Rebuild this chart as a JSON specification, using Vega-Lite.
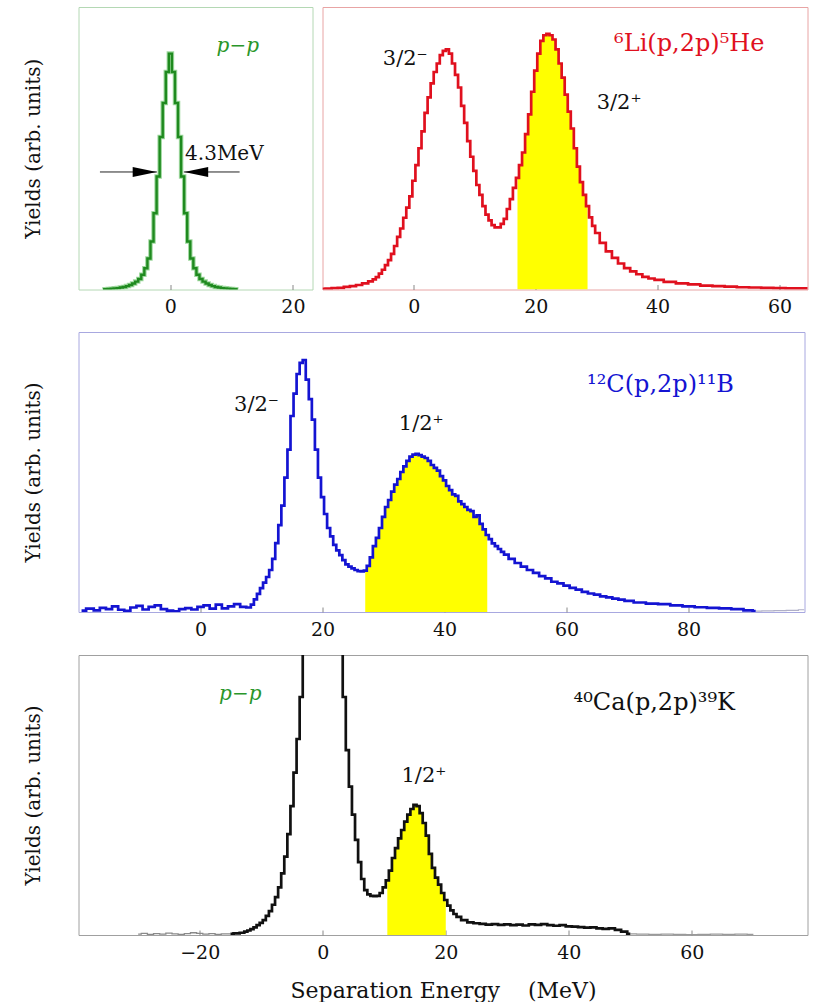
{
"$schema": "https://vega.github.io/schema/vega-lite/v6.json",
"background": "white",
"padding": {"left": 22.5, "top": 6, "right": 0, "bottom": 0},
"spacing": 14,
"config": {
  "font": "DejaVu Serif",
  "axis": {"grid": false, "domain": false, "labelFont": "DejaVu Serif", "labelFontSize": 19, "labelColor": "#111", "tickColor": "#888", "tickSize": -5, "labelPadding": 13, "labelOverlap": false, "titleFont": "DejaVu Serif", "titleFontWeight": "normal", "titleFontSize": 20, "titleColor": "#111"},
  "axisY": {"ticks": false, "labels": false, "domain": false, "titlePadding": 35}
},
"vconcat": [
 {"hconcat": [
  {
   "width": 234, "height": 282.5,
   "view": {"stroke": "#b4d8b4"},
   "data": {"values": [{"e":-11,"y":0},{"e":-10.5,"y":0.1},{"e":-10,"y":0.2},{"e":-9.5,"y":0.3},{"e":-9,"y":0.4},{"e":-8.5,"y":0.5},{"e":-8,"y":0.7},{"e":-7.5,"y":0.9},{"e":-7,"y":1.2},{"e":-6.5,"y":1.6},{"e":-6,"y":2.1},{"e":-5.5,"y":2.8},{"e":-5,"y":3.7},{"e":-4.5,"y":5.2},{"e":-4,"y":7.5},{"e":-3.5,"y":11},{"e":-3,"y":17},{"e":-2.5,"y":27},{"e":-2,"y":40},{"e":-1.5,"y":54},{"e":-1,"y":66},{"e":-0.5,"y":77},{"e":0,"y":83.5},{"e":0.5,"y":77},{"e":1,"y":66},{"e":1.5,"y":54},{"e":2,"y":40},{"e":2.5,"y":27},{"e":3,"y":17},{"e":3.5,"y":11},{"e":4,"y":7.5},{"e":4.5,"y":5.2},{"e":5,"y":3.7},{"e":5.5,"y":2.8},{"e":6,"y":2.1},{"e":6.5,"y":1.6},{"e":7,"y":1.2},{"e":7.5,"y":0.9},{"e":8,"y":0.7},{"e":8.5,"y":0.5},{"e":9,"y":0.4},{"e":9.5,"y":0.3},{"e":10,"y":0.2},{"e":10.5,"y":0.1},{"e":11,"y":0}]},
   "encoding": {
     "x": {"field": "e", "type": "quantitative", "scale": {"domain": [-15, 23.2], "nice": false, "zero": false}, "axis": {"values": [0, 20], "title": null}},
     "y": {"field": "y", "type": "quantitative", "scale": {"domain": [0, 100], "nice": false}, "axis": {"title": "Yields (arb. units)"}}
   },
   "layer": [
    {"mark": {"type": "line", "interpolate": "step", "color": "#9fd89f", "strokeWidth": 4.5, "clip": true}},
    {"mark": {"type": "line", "interpolate": "step", "color": "#1f8a1f", "strokeWidth": 2.4, "clip": true}},
    {"data": {"values": [{"e": -11.5, "e2": -2.2, "y": 41.6}, {"e": 2.2, "e2": 11.3, "y": 41.6}]},
     "mark": {"type": "rule", "color": "#222", "strokeWidth": 1},
     "encoding": {"x2": {"field": "e2"}}},
    {"data": {"values": [{"e": -4.19, "y": 41.6}]},
     "mark": {"type": "point", "shape": "M-1,-0.42L1,0L-1,0.42Z", "filled": true, "size": 576, "color": "#000", "opacity": 1}},
    {"data": {"values": [{"e": 4.21, "y": 41.6}]},
     "mark": {"type": "point", "shape": "M1,-0.42L-1,0L1,0.42Z", "filled": true, "size": 576, "color": "#000", "opacity": 1}},
    {"data": {"values": [{"e": 2.4, "y": 48, "t": "4.3MeV"}]},
     "mark": {"type": "text", "align": "left", "baseline": "middle", "font": "DejaVu Serif", "fontSize": 20, "color": "#111"},
     "encoding": {"text": {"field": "t"}}},
    {"data": {"values": [{"e": 11.0, "y": 86.2, "t": "p−p"}]},
     "mark": {"type": "text", "align": "center", "baseline": "middle", "font": "DejaVu Serif", "fontStyle": "italic", "fontSize": 20, "color": "#2a962a"},
     "encoding": {"text": {"field": "t"}}}
   ]
  },
  {
   "width": 485, "height": 282.5,
   "view": {"stroke": "#e8a4a4"},
   "data": {"values": [{"e":-15,"y":0.2},{"e":-14,"y":0.3},{"e":-13,"y":0.5},{"e":-12,"y":0.6},{"e":-11,"y":0.9},{"e":-10,"y":1.2},{"e":-9,"y":1.6},{"e":-8,"y":2.2},{"e":-7,"y":2.9},{"e":-6.5,"y":3.6},{"e":-6,"y":4.4},{"e":-5.5,"y":5.6},{"e":-5,"y":7},{"e":-4.5,"y":8.6},{"e":-4,"y":10.4},{"e":-3.5,"y":12.6},{"e":-3,"y":15.4},{"e":-2.5,"y":18.6},{"e":-2,"y":21.6},{"e":-1.5,"y":25.4},{"e":-1,"y":29},{"e":-0.5,"y":33},{"e":0,"y":38.5},{"e":0.5,"y":44},{"e":1,"y":50},{"e":1.5,"y":56},{"e":2,"y":62.5},{"e":2.5,"y":68},{"e":3,"y":73},{"e":3.5,"y":77},{"e":4,"y":80},{"e":4.5,"y":83},{"e":5,"y":84.5},{"e":5.5,"y":85},{"e":6,"y":83.5},{"e":6.5,"y":80},{"e":7,"y":76},{"e":7.5,"y":71.5},{"e":8,"y":65},{"e":8.5,"y":59},{"e":9,"y":52.5},{"e":9.5,"y":47},{"e":10,"y":42},{"e":10.5,"y":37},{"e":11,"y":33.5},{"e":11.5,"y":29.5},{"e":12,"y":26.5},{"e":12.5,"y":24.5},{"e":13,"y":22.8},{"e":13.5,"y":22},{"e":14,"y":22},{"e":14.5,"y":23.2},{"e":15,"y":25},{"e":15.5,"y":28.5},{"e":16,"y":32},{"e":16.5,"y":36},{"e":17,"y":39.5},{"e":17.5,"y":44},{"e":18,"y":48.5},{"e":18.5,"y":55},{"e":19,"y":62},{"e":19.5,"y":70},{"e":20,"y":77.5},{"e":20.5,"y":83.5},{"e":21,"y":88},{"e":21.5,"y":90},{"e":22,"y":90.5},{"e":22.5,"y":90},{"e":23,"y":88.5},{"e":23.5,"y":85},{"e":24,"y":80},{"e":24.5,"y":75},{"e":25,"y":69},{"e":25.5,"y":63},{"e":26,"y":57},{"e":26.5,"y":50},{"e":27,"y":43.5},{"e":27.5,"y":38},{"e":28,"y":33.5},{"e":28.5,"y":29.5},{"e":29,"y":25.5},{"e":29.5,"y":22.5},{"e":30,"y":20},{"e":31,"y":16.5},{"e":32,"y":13.5},{"e":33,"y":11.2},{"e":34,"y":9.2},{"e":35,"y":7.6},{"e":36,"y":6.4},{"e":37,"y":5.4},{"e":38,"y":4.5},{"e":39,"y":3.9},{"e":40,"y":3.4},{"e":42,"y":2.7},{"e":44,"y":2.2},{"e":46,"y":1.8},{"e":48,"y":1.4},{"e":50,"y":1.2},{"e":52,"y":1.0},{"e":54,"y":0.8},{"e":56,"y":0.7},{"e":58,"y":0.6},{"e":60,"y":0.5},{"e":62,"y":0.4},{"e":64,"y":0.4},{"e":65,"y":0.4}]},
   "encoding": {
     "x": {"field": "e", "type": "quantitative", "scale": {"domain": [-15, 64.6], "nice": false, "zero": false}, "axis": {"values": [0, 20, 40, 60], "title": null}},
     "y": {"field": "y", "type": "quantitative", "scale": {"domain": [0, 100], "nice": false}, "axis": null}
   },
   "layer": [
    {"transform": [{"filter": "datum.e >= 17 && datum.e <= 28.5"}],
     "mark": {"type": "area", "interpolate": "step", "color": "#ffff00", "opacity": 1, "clip": true}},
    {"mark": {"type": "line", "interpolate": "step", "color": "#e0101e", "strokeWidth": 2.7, "clip": true}},
    {"data": {"values": [{"e": -5.1, "y": 81.6, "t": "3/2⁻"}, {"e": 30, "y": 66, "t": "3/2⁺"}]},
     "mark": {"type": "text", "align": "left", "baseline": "middle", "font": "DejaVu Serif", "fontSize": 21, "color": "#111"},
     "encoding": {"text": {"field": "t"}}},
    {"data": {"values": [{"e": 45.2, "y": 86.9, "t": "⁶Li(p,2p)⁵He"}]},
     "mark": {"type": "text", "align": "center", "baseline": "middle", "font": "DejaVu Serif", "fontSize": 24, "color": "#e0101e"},
     "encoding": {"text": {"field": "t"}}}
   ]
  }
 ], "spacing": 10, "bounds": "flush"},
 {
  "width": 726, "height": 280,
  "view": {"stroke": "#a8a8e0"},
  "data": {"values": [{"e":-19.5,"y":0.5},{"e":-18,"y":1.2},{"e":-17,"y":0.6},{"e":-16,"y":1.5},{"e":-15,"y":1.0},{"e":-14,"y":2.0},{"e":-13,"y":0.8},{"e":-12,"y":0.4},{"e":-11,"y":1.6},{"e":-10,"y":2.2},{"e":-9,"y":0.9},{"e":-8,"y":1.8},{"e":-7,"y":2.4},{"e":-6,"y":1.0},{"e":-5,"y":0.5},{"e":-4,"y":0.2},{"e":-3,"y":1.0},{"e":-2,"y":1.4},{"e":-1,"y":0.9},{"e":0,"y":1.8},{"e":1,"y":2.4},{"e":2,"y":1.2},{"e":3,"y":2.6},{"e":4,"y":1.3},{"e":5,"y":2.0},{"e":6,"y":2.8},{"e":7,"y":1.8},{"e":8,"y":1.6},{"e":8.5,"y":2.6},{"e":9,"y":4.5},{"e":9.5,"y":6.5},{"e":10,"y":8.5},{"e":10.5,"y":10.5},{"e":11,"y":12.5},{"e":11.5,"y":15},{"e":12,"y":19},{"e":12.5,"y":24.6},{"e":13,"y":31},{"e":13.5,"y":38},{"e":14,"y":48},{"e":14.5,"y":58},{"e":15,"y":70},{"e":15.5,"y":78},{"e":16,"y":85},{"e":16.5,"y":89},{"e":17,"y":90},{"e":17.5,"y":83},{"e":18,"y":76},{"e":18.5,"y":68.7},{"e":19,"y":58},{"e":19.5,"y":48},{"e":20,"y":41},{"e":20.5,"y":35},{"e":21,"y":30},{"e":21.5,"y":27},{"e":22,"y":24},{"e":22.5,"y":22},{"e":23,"y":20.3},{"e":23.5,"y":18.5},{"e":24,"y":17},{"e":24.5,"y":16.2},{"e":25,"y":15.6},{"e":25.5,"y":15},{"e":26,"y":14.6},{"e":26.5,"y":14.5},{"e":27,"y":14.8},{"e":27.5,"y":16.5},{"e":28,"y":19.5},{"e":28.5,"y":23.5},{"e":29,"y":26.5},{"e":29.5,"y":30},{"e":30,"y":34},{"e":30.5,"y":37.5},{"e":31,"y":40},{"e":31.5,"y":43},{"e":32,"y":45.5},{"e":32.5,"y":47.5},{"e":33,"y":50},{"e":33.5,"y":52},{"e":34,"y":54},{"e":34.5,"y":55.5},{"e":35,"y":56.2},{"e":35.5,"y":56.5},{"e":36,"y":56},{"e":36.5,"y":55.5},{"e":37,"y":55},{"e":37.5,"y":54},{"e":38,"y":52.5},{"e":38.5,"y":51.5},{"e":39,"y":50.5},{"e":39.5,"y":48.5},{"e":40,"y":47},{"e":40.5,"y":45},{"e":41,"y":43.5},{"e":41.5,"y":42},{"e":42,"y":41.5},{"e":42.5,"y":39.5},{"e":43,"y":38.5},{"e":43.5,"y":37.5},{"e":44,"y":36.5},{"e":44.5,"y":36},{"e":45,"y":34},{"e":45.5,"y":34.5},{"e":46,"y":31.5},{"e":46.5,"y":29.5},{"e":47,"y":27.5},{"e":47.5,"y":26},{"e":48,"y":24.5},{"e":48.5,"y":23.5},{"e":49,"y":22.5},{"e":49.5,"y":21.5},{"e":50,"y":20.5},{"e":51,"y":19},{"e":52,"y":17.5},{"e":53,"y":16.2},{"e":54,"y":15},{"e":55,"y":14},{"e":56,"y":12.8},{"e":57,"y":12},{"e":58,"y":10.8},{"e":59,"y":10.2},{"e":60,"y":9.4},{"e":61,"y":8.6},{"e":62,"y":8.0},{"e":63,"y":7.2},{"e":64,"y":6.6},{"e":65,"y":6.2},{"e":66,"y":5.6},{"e":67,"y":5.2},{"e":68,"y":4.8},{"e":69,"y":4.4},{"e":70,"y":4.0},{"e":72,"y":3.4},{"e":74,"y":3.0},{"e":76,"y":2.8},{"e":78,"y":2.4},{"e":80,"y":2.0},{"e":82,"y":1.7},{"e":84,"y":1.5},{"e":86,"y":1.3},{"e":88,"y":1.0},{"e":90,"y":0.6},{"e":91,"y":0.3},{"e":93,"y":0.4},{"e":95,"y":0.5},{"e":97,"y":0.6},{"e":99,"y":0.8}]},
  "encoding": {
    "x": {"field": "e", "type": "quantitative", "scale": {"domain": [-20.0, 99], "nice": false, "zero": false}, "axis": {"values": [0, 20, 40, 60, 80], "title": null}},
    "y": {"field": "y", "type": "quantitative", "scale": {"domain": [0, 100], "nice": false}, "axis": {"title": "Yields (arb. units)"}}
  },
  "layer": [
   {"transform": [{"filter": "datum.e >= 27 && datum.e <= 47"}],
    "mark": {"type": "area", "interpolate": "step", "color": "#ffff00", "opacity": 1, "clip": true}},
   {"transform": [{"filter": "datum.e >= 91"}],
    "mark": {"type": "line", "interpolate": "step", "color": "#b0b0c8", "strokeWidth": 1.2, "clip": true}},
   {"transform": [{"filter": "datum.e <= 91"}],
    "mark": {"type": "line", "interpolate": "step", "color": "#1414d2", "strokeWidth": 2.7, "clip": true}},
   {"data": {"values": [{"e": 5.5, "y": 74, "t": "3/2⁻"}, {"e": 32.5, "y": 67.3, "t": "1/2⁺"}]},
    "mark": {"type": "text", "align": "left", "baseline": "middle", "font": "DejaVu Serif", "fontSize": 21, "color": "#111"},
    "encoding": {"text": {"field": "t"}}},
   {"data": {"values": [{"e": 75.4, "y": 81.2, "t": "¹²C(p,2p)¹¹B"}]},
    "mark": {"type": "text", "align": "center", "baseline": "middle", "font": "DejaVu Serif", "fontSize": 24, "color": "#1414d2"},
    "encoding": {"text": {"field": "t"}}}
  ]
 },
 {
  "width": 729, "height": 280,
  "view": {"stroke": "#a0a0a0"},
  "data": {"values": [{"e":-30,"y":0.3},{"e":-29,"y":0.6},{"e":-28,"y":0.2},{"e":-27,"y":0.5},{"e":-26,"y":0.3},{"e":-25,"y":0.7},{"e":-24,"y":0.4},{"e":-23,"y":0.2},{"e":-22,"y":0.5},{"e":-21,"y":0.8},{"e":-20,"y":0.6},{"e":-19,"y":0.3},{"e":-18,"y":0.5},{"e":-17,"y":0.2},{"e":-16,"y":0.4},{"e":-15,"y":0.4},{"e":-14,"y":0.6},{"e":-13,"y":0.8},{"e":-12.5,"y":1.2},{"e":-12,"y":1.6},{"e":-11.5,"y":2.1},{"e":-11,"y":2.7},{"e":-10.5,"y":3.5},{"e":-10,"y":4.3},{"e":-9.5,"y":5.3},{"e":-9,"y":6.8},{"e":-8.5,"y":8.5},{"e":-8,"y":10.8},{"e":-7.5,"y":13.5},{"e":-7,"y":17},{"e":-6.5,"y":22},{"e":-6,"y":28},{"e":-5.5,"y":36},{"e":-5,"y":46},{"e":-4.5,"y":58},{"e":-4,"y":70},{"e":-3.5,"y":85},{"e":-3,"y":103},{"e":-2.5,"y":125},{"e":-2,"y":150},{"e":-1.5,"y":170},{"e":-1,"y":185},{"e":-0.5,"y":195},{"e":0,"y":200},{"e":0.5,"y":198},{"e":1,"y":190},{"e":1.5,"y":178},{"e":2,"y":160},{"e":2.5,"y":135},{"e":3,"y":108},{"e":3.5,"y":85},{"e":4,"y":66},{"e":4.5,"y":53},{"e":5,"y":43},{"e":5.5,"y":34},{"e":6,"y":26},{"e":6.5,"y":20},{"e":7,"y":16},{"e":7.5,"y":14.5},{"e":8,"y":14},{"e":8.5,"y":13.9},{"e":9,"y":14},{"e":9.5,"y":15},{"e":10,"y":17},{"e":10.5,"y":19.5},{"e":11,"y":23},{"e":11.5,"y":27.5},{"e":12,"y":31},{"e":12.5,"y":34.5},{"e":13,"y":37.5},{"e":13.5,"y":40.5},{"e":14,"y":43},{"e":14.5,"y":45},{"e":15,"y":46.5},{"e":15.5,"y":46},{"e":16,"y":43.5},{"e":16.5,"y":40},{"e":17,"y":35.5},{"e":17.5,"y":29},{"e":18,"y":24},{"e":18.5,"y":20.5},{"e":19,"y":18},{"e":19.5,"y":15},{"e":20,"y":12.5},{"e":20.5,"y":10.5},{"e":21,"y":8.8},{"e":21.5,"y":7.5},{"e":22,"y":6.5},{"e":23,"y":5.3},{"e":24,"y":4.5},{"e":25,"y":4.2},{"e":26,"y":4.0},{"e":27,"y":3.7},{"e":28,"y":3.9},{"e":29,"y":3.6},{"e":30,"y":3.8},{"e":31,"y":3.5},{"e":32,"y":3.7},{"e":33,"y":3.4},{"e":34,"y":3.8},{"e":35,"y":3.6},{"e":36,"y":3.9},{"e":37,"y":3.5},{"e":38,"y":3.3},{"e":39,"y":3.5},{"e":40,"y":3.1},{"e":41,"y":3.0},{"e":42,"y":2.8},{"e":43,"y":2.6},{"e":44,"y":2.7},{"e":45,"y":2.4},{"e":46,"y":2.2},{"e":47,"y":2.4},{"e":48,"y":1.8},{"e":49,"y":1.2},{"e":50,"y":0.4},{"e":52,"y":0.3},{"e":54,"y":0.2},{"e":56,"y":0.3},{"e":58,"y":0.2},{"e":60,"y":0.1},{"e":62,"y":0.2},{"e":64,"y":0.3},{"e":66,"y":0.2},{"e":68,"y":0.3},{"e":70,"y":0.2}]},
  "encoding": {
    "x": {"field": "e", "type": "quantitative", "scale": {"domain": [-39.7, 78.8], "nice": false, "zero": false}, "axis": {"values": [-20, 0, 20, 40, 60], "title": "Separation Energy\u00a0\u00a0\u00a0\u00a0(MeV)", "titleFontSize": 22, "titlePadding": 18}},
    "y": {"field": "y", "type": "quantitative", "scale": {"domain": [0, 100], "nice": false}, "axis": {"title": "Yields (arb. units)"}}
  },
  "layer": [
   {"transform": [{"filter": "datum.e >= 10.5 && datum.e <= 20"}],
    "mark": {"type": "area", "interpolate": "step", "color": "#ffff00", "opacity": 1, "clip": true}},
   {"transform": [{"filter": "datum.e <= -15"}],
    "mark": {"type": "line", "interpolate": "step", "color": "#8a8a8a", "strokeWidth": 1.3, "clip": true}},
   {"transform": [{"filter": "datum.e >= 50"}],
    "mark": {"type": "line", "interpolate": "step", "color": "#9a9a9a", "strokeWidth": 1.3, "clip": true}},
   {"transform": [{"filter": "datum.e >= -15 && datum.e <= 50"}],
    "mark": {"type": "line", "interpolate": "step", "color": "#111111", "strokeWidth": 2.7, "clip": true}},
   {"data": {"values": [{"e": 12.8, "y": 56.8, "t": "1/2⁺"}]},
    "mark": {"type": "text", "align": "left", "baseline": "middle", "font": "DejaVu Serif", "fontSize": 21, "color": "#111"},
    "encoding": {"text": {"field": "t"}}},
   {"data": {"values": [{"e": -13.4, "y": 86.1, "t": "p−p"}]},
    "mark": {"type": "text", "align": "center", "baseline": "middle", "font": "DejaVu Serif", "fontStyle": "italic", "fontSize": 20, "color": "#2a962a"},
    "encoding": {"text": {"field": "t"}}},
   {"data": {"values": [{"e": 53.9, "y": 82.9, "t": "⁴⁰Ca(p,2p)³⁹K"}]},
    "mark": {"type": "text", "align": "center", "baseline": "middle", "font": "DejaVu Serif", "fontSize": 24, "color": "#111"},
    "encoding": {"text": {"field": "t"}}}
  ]
 }
]
}
